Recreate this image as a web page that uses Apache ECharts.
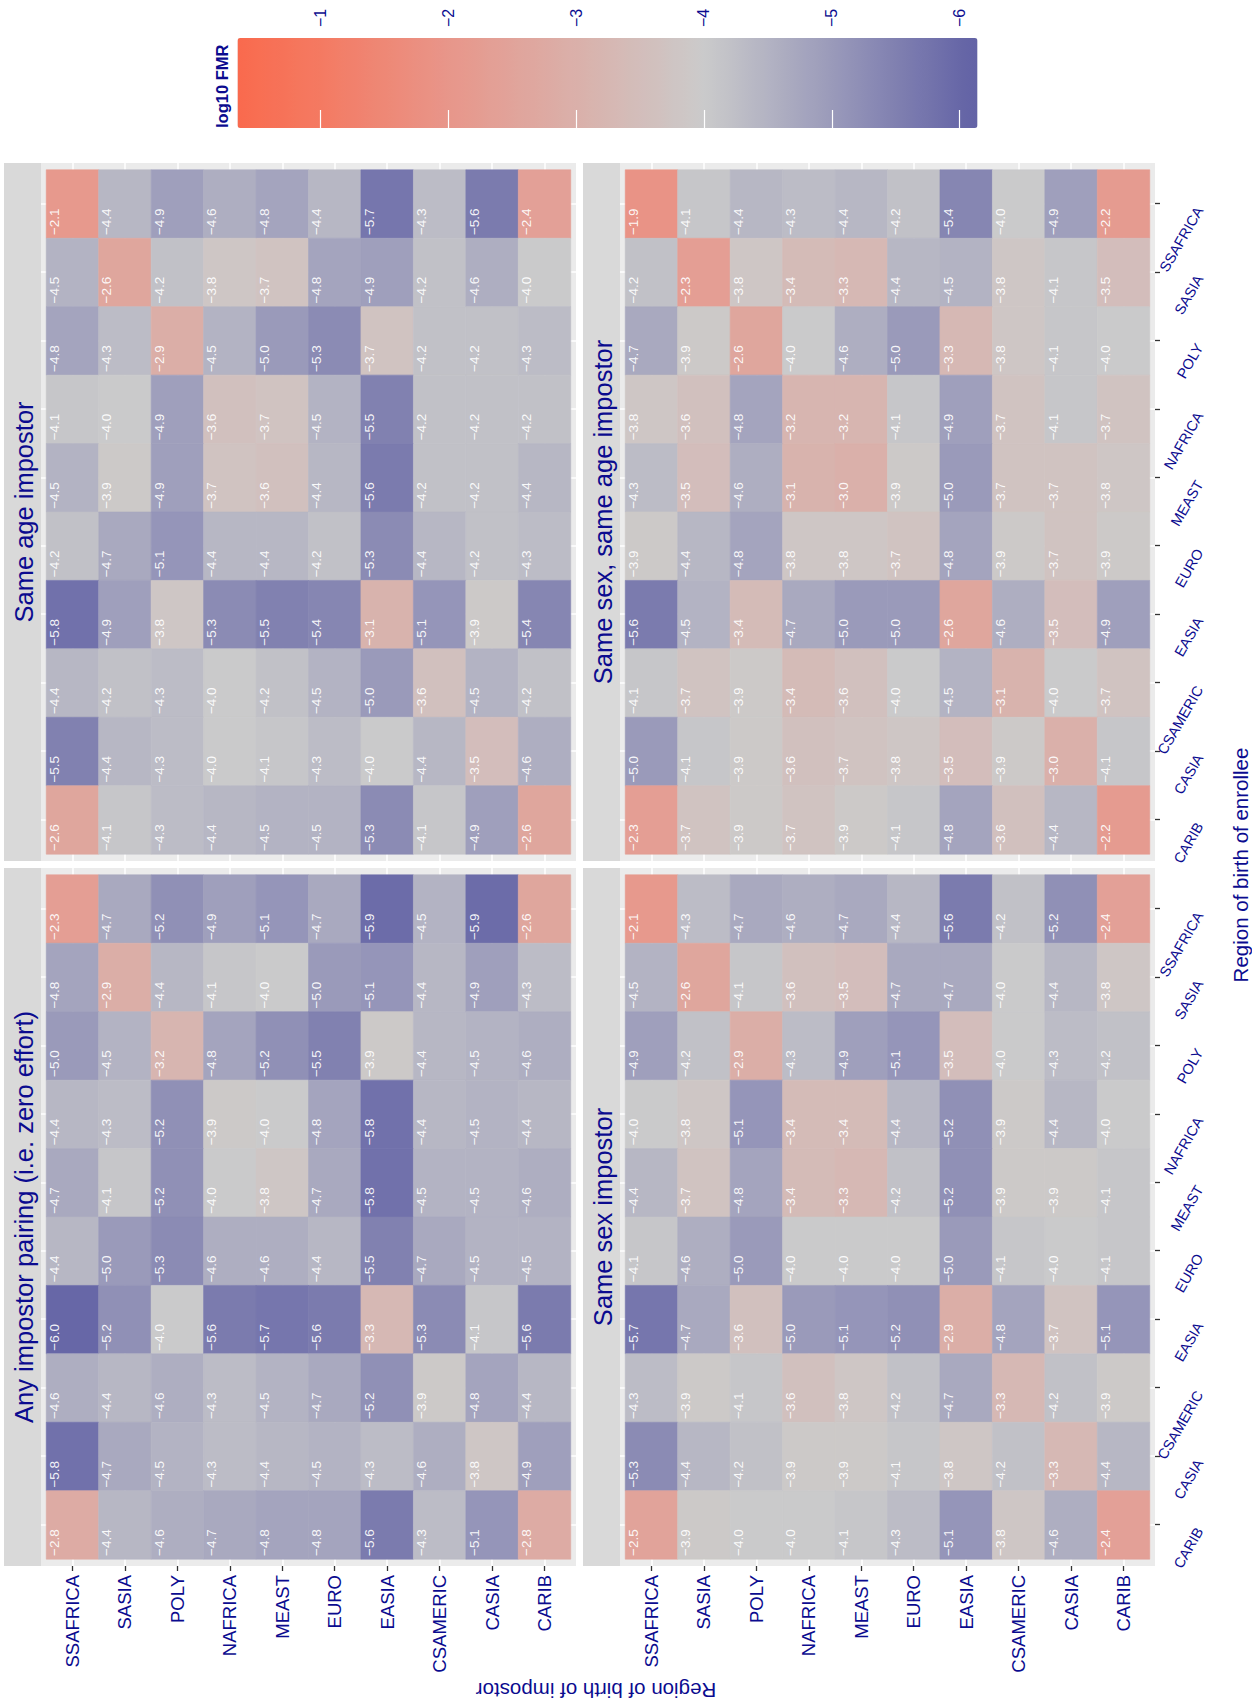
<!DOCTYPE html>
<html>
<head>
<meta charset="utf-8">
<title>log10 FMR by region of birth</title>
<script src="https://cdn.jsdelivr.net/npm/echarts@6/dist/echarts.min.js"></script>
<style>
  html, body { margin: 0; padding: 0; background: #ffffff; overflow: hidden; width: 1252px; height: 1705px; }
  /* The figure is laid out landscape and turned a quarter turn counter-clockwise onto the portrait page. */
  #chart { position: absolute; left: 0; top: 1705px; width: 1705px; height: 1252px;
           transform-origin: 0 0; transform: rotate(-90deg); }
</style>
</head>
<body>
<div id="chart"></div>
<script>
// Region codes in factor order: x axis left -> right, y axis bottom -> top.
const regions = ['CARIB', 'CASIA', 'CSAMERIC', 'EASIA', 'EURO', 'MEAST', 'NAFRICA', 'POLY', 'SASIA', 'SSAFRICA'];

// Order used by the matrices below: each row is one enrollee region,
// each column one impostor region, both listed in this order.
const matrixOrder = ['SSAFRICA', 'SASIA', 'POLY', 'NAFRICA', 'MEAST', 'EURO', 'EASIA', 'CSAMERIC', 'CASIA', 'CARIB'];

const facetTitles = ['Any impostor pairing (i.e. zero effort)', 'Same age impostor',
                     'Same sex impostor', 'Same sex, same age impostor'];

// log10 false match rate, rows = enrollee, columns = impostor
const anyPairing = [
  [-2.3, -4.7, -5.2, -4.9, -5.1, -4.7, -5.9, -4.5, -5.9, -2.6],
  [-4.8, -2.9, -4.4, -4.1, -4.0, -5.0, -5.1, -4.4, -4.9, -4.3],
  [-5.0, -4.5, -3.2, -4.8, -5.2, -5.5, -3.9, -4.4, -4.5, -4.6],
  [-4.4, -4.3, -5.2, -3.9, -4.0, -4.8, -5.8, -4.4, -4.5, -4.4],
  [-4.7, -4.1, -5.2, -4.0, -3.8, -4.7, -5.8, -4.5, -4.5, -4.6],
  [-4.4, -5.0, -5.3, -4.6, -4.6, -4.4, -5.5, -4.7, -4.5, -4.5],
  [-6.0, -5.2, -4.0, -5.6, -5.7, -5.6, -3.3, -5.3, -4.1, -5.6],
  [-4.6, -4.4, -4.6, -4.3, -4.5, -4.7, -5.2, -3.9, -4.8, -4.4],
  [-5.8, -4.7, -4.5, -4.3, -4.4, -4.5, -4.3, -4.6, -3.8, -4.9],
  [-2.8, -4.4, -4.6, -4.7, -4.8, -4.8, -5.6, -4.3, -5.1, -2.8]
];

const sameAge = [
  [-2.1, -4.4, -4.9, -4.6, -4.8, -4.4, -5.7, -4.3, -5.6, -2.4],
  [-4.5, -2.6, -4.2, -3.8, -3.7, -4.8, -4.9, -4.2, -4.6, -4.0],
  [-4.8, -4.3, -2.9, -4.5, -5.0, -5.3, -3.7, -4.2, -4.2, -4.3],
  [-4.1, -4.0, -4.9, -3.6, -3.7, -4.5, -5.5, -4.2, -4.2, -4.2],
  [-4.5, -3.9, -4.9, -3.7, -3.6, -4.4, -5.6, -4.2, -4.2, -4.4],
  [-4.2, -4.7, -5.1, -4.4, -4.4, -4.2, -5.3, -4.4, -4.2, -4.3],
  [-5.8, -4.9, -3.8, -5.3, -5.5, -5.4, -3.1, -5.1, -3.9, -5.4],
  [-4.4, -4.2, -4.3, -4.0, -4.2, -4.5, -5.0, -3.6, -4.5, -4.2],
  [-5.5, -4.4, -4.3, -4.0, -4.1, -4.3, -4.0, -4.4, -3.5, -4.6],
  [-2.6, -4.1, -4.3, -4.4, -4.5, -4.5, -5.3, -4.1, -4.9, -2.6]
];

const sameSex = [
  [-2.1, -4.3, -4.7, -4.6, -4.7, -4.4, -5.6, -4.2, -5.2, -2.4],
  [-4.5, -2.6, -4.1, -3.6, -3.5, -4.7, -4.7, -4.0, -4.4, -3.8],
  [-4.9, -4.2, -2.9, -4.3, -4.9, -5.1, -3.5, -4.0, -4.3, -4.2],
  [-4.0, -3.8, -5.1, -3.4, -3.4, -4.4, -5.2, -3.9, -4.4, -4.0],
  [-4.4, -3.7, -4.8, -3.4, -3.3, -4.2, -5.2, -3.9, -3.9, -4.1],
  [-4.1, -4.6, -5.0, -4.0, -4.0, -4.0, -5.0, -4.1, -4.0, -4.1],
  [-5.7, -4.7, -3.6, -5.0, -5.1, -5.2, -2.9, -4.8, -3.7, -5.1],
  [-4.3, -3.9, -4.1, -3.6, -3.8, -4.2, -4.7, -3.3, -4.2, -3.9],
  [-5.3, -4.4, -4.2, -3.9, -3.9, -4.1, -3.8, -4.2, -3.3, -4.4],
  [-2.5, -3.9, -4.0, -4.0, -4.1, -4.3, -5.1, -3.8, -4.6, -2.4]
];

const sameSexSameAge = [
  [-1.9, -4.1, -4.4, -4.3, -4.4, -4.2, -5.4, -4.0, -4.9, -2.2],
  [-4.2, -2.3, -3.8, -3.4, -3.3, -4.4, -4.5, -3.8, -4.1, -3.5],
  [-4.7, -3.9, -2.6, -4.0, -4.6, -5.0, -3.3, -3.8, -4.1, -4.0],
  [-3.8, -3.6, -4.8, -3.2, -3.2, -4.1, -4.9, -3.7, -4.1, -3.7],
  [-4.3, -3.5, -4.6, -3.1, -3.0, -3.9, -5.0, -3.7, -3.7, -3.8],
  [-3.9, -4.4, -4.8, -3.8, -3.8, -3.7, -4.8, -3.9, -3.7, -3.9],
  [-5.6, -4.5, -3.4, -4.7, -5.0, -5.0, -2.6, -4.6, -3.5, -4.9],
  [-4.1, -3.7, -3.9, -3.4, -3.6, -4.0, -4.5, -3.1, -4.0, -3.7],
  [-5.0, -4.1, -3.9, -3.6, -3.7, -3.8, -3.5, -3.9, -3.0, -4.1],
  [-2.3, -3.7, -3.9, -3.7, -3.9, -4.1, -4.8, -3.6, -4.4, -2.2]
];

// Colour bar range and its labelled breaks
const legendMin = -6.14;
const legendMax = -0.35;
const legendBreaks = [-6, -5, -4, -3, -2, -1];

// ---------------------------------------------------------------------------
const FONT = "'Liberation Sans', Arial, Helvetica, sans-serif";
const BLUE = '#0B0B8F';
const minus = v => (v < 0 ? '\u2212' : '') + Math.abs(v);
const minus1 = v => (v < 0 ? '\u2212' : '') + Math.abs(v).toFixed(1);

// tomato -> grey -> slate blue diverging ramp
const rampStops = [
  [-6.14, '#6363A5'], [-6, '#6767A7'], [-5, '#9A9ABA'], [-4, '#CBCBCB'],
  [-3, '#DAB0AA'], [-2, '#E8968A'], [-1, '#F47A62'], [-0.35, '#F96A4E']
];
function hexRgb(h) { return [1, 3, 5].map(i => parseInt(h.substr(i, 2), 16)); }
function rampAt(v) {
  for (let i = 1; i < rampStops.length; i++) {
    if (v <= rampStops[i][0] || i === rampStops.length - 1) {
      const a = rampStops[i - 1], b = rampStops[i];
      const t = Math.max(0, Math.min(1, (v - a[0]) / (b[0] - a[0])));
      const ca = hexRgb(a[1]), cb = hexRgb(b[1]);
      const c = ca.map((x, k) => Math.round(x + (cb[k] - x) * t));
      return 'rgb(' + c.join(',') + ')';
    }
  }
}
const palette = [];
for (let i = 0; i <= 120; i++) palette.push(rampAt(legendMin + (legendMax - legendMin) * i / 120));

// Facet layout (landscape frame, px)
const panelW = 698, panelH = 535, stripH = 37;
const panelLeft = [139, 844];
const panelTop = [41, 620];
const matrices = [anyPairing, sameAge, sameSex, sameSexSameAge];
const tickPos = regions.map((r, i) => i + 1);

function tileData(m) {
  const out = [];
  m.forEach((row, r) => {
    row.forEach((v, c) => {
      out.push([regions.indexOf(matrixOrder[r]) + 1, regions.indexOf(matrixOrder[c]) + 1, v]);
    });
  });
  return out;
}

function renderTile(params, api) {
  const x = api.value(0), y = api.value(1), v = api.value(2);
  const p0 = api.coord([x - 0.5, y + 0.5]);
  const p1 = api.coord([x + 0.5, y - 0.5]);
  const col = api.visual('color');
  return {
    type: 'group',
    children: [
      { type: 'rect',
        shape: { x: p0[0], y: p0[1], width: p1[0] - p0[0], height: p1[1] - p0[1] },
        style: { fill: col, stroke: col, lineWidth: 0.6 } },
      { type: 'text', x: p0[0] + 3.2, y: p0[1] + 1.2,
        style: { text: minus1(v), fill: 'rgba(255,255,255,0.93)', font: '13.5px ' + FONT,
                 align: 'left', verticalAlign: 'top', textAlign: 'left', textVerticalAlign: 'top' } }
    ]
  };
}

const grids = [], xAxes = [], yAxes = [], series = [], graphics = [];
for (let f = 0; f < 4; f++) {
  const col = f % 2, row = Math.floor(f / 2);
  grids.push({ left: panelLeft[col], top: panelTop[row], width: panelW, height: panelH,
               show: true, backgroundColor: '#EBEBEB', borderWidth: 0, containLabel: false });
  const axisBase = {
    gridIndex: f, type: 'value', min: 0.4, max: 10.6,
    axisLine: { show: false },
    splitLine: { show: true, lineStyle: { color: '#FFFFFF', width: 1.5 } }
  };
  xAxes.push(Object.assign({}, axisBase, {
    axisTick: { show: row === 1, customValues: tickPos, length: 5, lineStyle: { color: '#333333', width: 1.3 } },
    axisLabel: { show: row === 1, customValues: tickPos, formatter: v => regions[Math.round(v) - 1],
                 rotate: -30, align: 'right', verticalAlign: 'top', margin: 38,
                 color: BLUE, fontSize: 14.5, fontFamily: FONT }
  }));
  yAxes.push(Object.assign({}, axisBase, {
    axisTick: { show: col === 0, customValues: tickPos, length: 5, lineStyle: { color: '#333333', width: 1.3 } },
    axisLabel: { show: col === 0, customValues: tickPos, formatter: v => regions[Math.round(v) - 1],
                 margin: 9, color: BLUE, fontSize: 18.5, fontFamily: FONT }
  }));
  series.push({ type: 'custom', name: facetTitles[f], xAxisIndex: f, yAxisIndex: f,
                data: tileData(matrices[f]), encode: { x: 0, y: 1 }, renderItem: renderTile });
  // facet strip
  graphics.push({ type: 'rect', shape: { x: panelLeft[col], y: panelTop[row] - stripH, width: panelW, height: stripH },
                  style: { fill: '#D9D9D9' } });
  graphics.push({ type: 'text', x: panelLeft[col] + panelW / 2, y: panelTop[row] - stripH / 2 + 1,
                  style: { text: facetTitles[f], fill: BLUE, font: '25.5px ' + FONT,
                           align: 'center', verticalAlign: 'middle', textAlign: 'center', textVerticalAlign: 'middle' } });
}

// Colour bar overlay grid: breaks, white ticks and labels
const barLeft = 1577, barTop = 237.5, barW = 90, barH = 740;
grids.push({ left: barLeft, top: barTop, width: barW, height: barH, show: false });
xAxes.push({ gridIndex: 4, type: 'value', min: 0, max: 1, show: false });
yAxes.push({ gridIndex: 4, type: 'value', position: 'right', min: legendMin, max: legendMax, z: 10,
             axisLine: { show: false }, splitLine: { show: false },
             axisTick: { show: true, inside: true, length: 18, customValues: legendBreaks,
                         lineStyle: { color: '#FFFFFF', width: 1.2 } },
             axisLabel: { show: true, customValues: legendBreaks, formatter: minus, margin: 11,
                          color: BLUE, fontSize: 16, fontFamily: FONT } });
yAxes.push({ gridIndex: 4, type: 'value', position: 'left', min: legendMin, max: legendMax, z: 10,
             axisLine: { show: false }, splitLine: { show: false },
             axisTick: { show: true, inside: true, length: 18, customValues: legendBreaks,
                         lineStyle: { color: '#FFFFFF', width: 1.2 } },
             axisLabel: { show: false } });

// Axis titles and legend title
graphics.push({ type: 'text', x: 840, y: 1240,
                style: { text: 'Region of birth of enrollee', fill: BLUE, font: '20.5px ' + FONT,
                         align: 'center', verticalAlign: 'middle', textAlign: 'center', textVerticalAlign: 'middle' } });
graphics.push({ type: 'text', x: 15, y: 596, rotation: Math.PI / 2,
                style: { text: 'Region of birth of impostor', fill: BLUE, font: '20.5px ' + FONT,
                         align: 'center', verticalAlign: 'middle', textAlign: 'center', textVerticalAlign: 'middle' } });
graphics.push({ type: 'text', x: barLeft, y: 222,
                style: { text: 'log10 FMR', fill: BLUE, font: 'bold 16.5px ' + FONT,
                         align: 'left', verticalAlign: 'middle', textAlign: 'left', textVerticalAlign: 'middle' } });

const chart = echarts.init(document.getElementById('chart'), null, { renderer: 'svg', width: 1705, height: 1252 });
chart.setOption({
  animation: false,
  backgroundColor: '#FFFFFF',
  grid: grids,
  xAxis: xAxes,
  yAxis: yAxes,
  visualMap: {
    type: 'continuous', min: legendMin, max: legendMax, dimension: 2, seriesIndex: [0, 1, 2, 3],
    calculable: false, hoverLink: false, realtime: false,
    left: barLeft, top: barTop, itemWidth: barW, itemHeight: barH, padding: 0,
    inRange: { color: palette }
  },
  graphic: { elements: graphics },
  series: series
});
</script>
</body>
</html>
